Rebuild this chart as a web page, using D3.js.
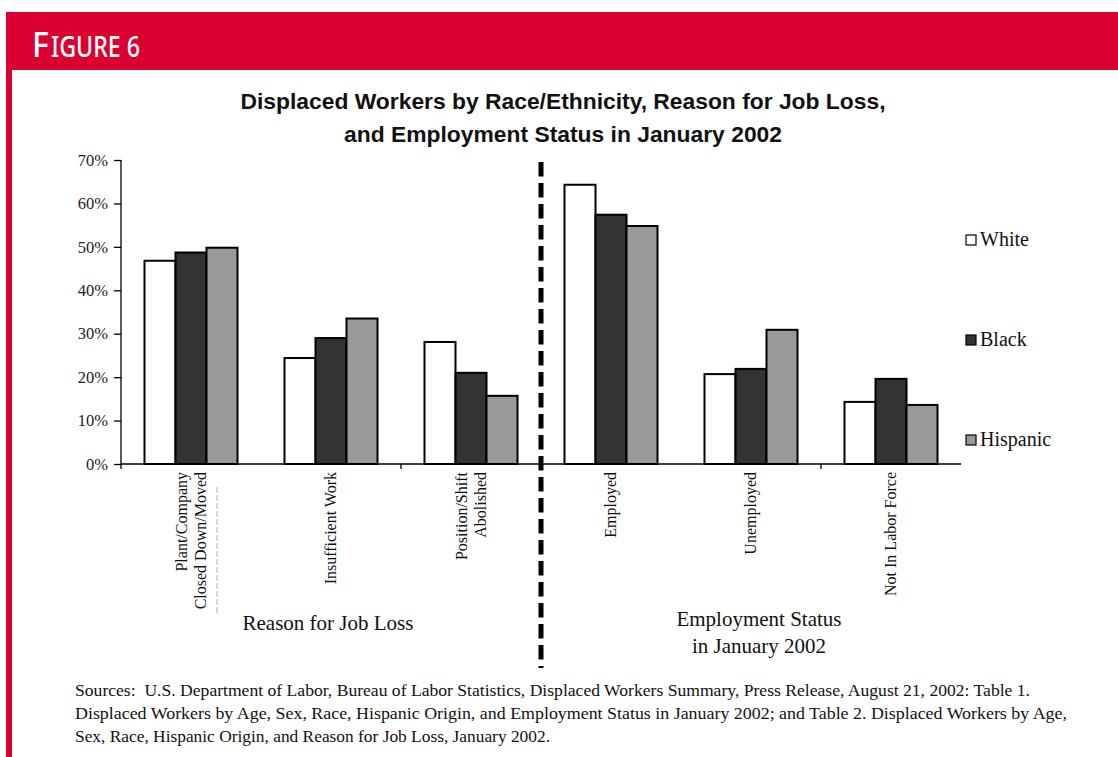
<!DOCTYPE html>
<html><head><meta charset="utf-8">
<script src="https://cdn.jsdelivr.net/npm/d3@7"></script>
<style>body{margin:0;background:#fff}svg{display:block}</style>
</head><body>
<script>
const categories = ["Plant/Company|Closed Down/Moved","Insufficient Work","Position/Shift|Abolished","Employed","Unemployed","Not In Labor Force"];
const series = ["White","Black","Hispanic"];
const white = [46.8, 24.4, 28.1, 64.3, 20.7, 14.3];
const black = [48.7, 29.0, 21.0, 57.4, 21.9, 19.6];
const hispanic = [49.8, 33.5, 15.7, 54.8, 30.9, 13.6];
const yTicks = [0,10,20,30,40,50,60,70];
const fills = {White:"#ffffff", Black:"#333333", Hispanic:"#999999"};
const values = {White:white, Black:black, Hispanic:hispanic};

const W=1118,H=757, red="#dc0030";
const svg=d3.select("body").append("svg").attr("width",W).attr("height",H);
// header
svg.append("rect").attr("x",6).attr("y",12).attr("width",W-6).attr("height",58).attr("fill",red);
svg.append("rect").attr("x",6).attr("y",12).attr("width",6).attr("height",H-12).attr("fill",red);
const hfont="'Noto Sans', 'Open Sans', sans-serif";
svg.append("text").attr("x",32).attr("y",57).attr("fill","#fff").attr("font-family",hfont).attr("font-weight",500)
  .attr("font-size",35).attr("textLength",17).attr("lengthAdjust","spacingAndGlyphs").text("F");
svg.append("text").attr("x",51).attr("y",57).attr("fill","#fff").attr("font-family",hfont).attr("font-weight",500)
  .attr("font-size",28).attr("textLength",89).attr("lengthAdjust","spacingAndGlyphs").text("IGURE 6");

// title
const tfont="'Liberation Sans', Arial, sans-serif";
svg.append("text").attr("x",563).attr("y",109).attr("text-anchor","middle").attr("font-family",tfont)
  .attr("font-weight","bold").attr("font-size",22).attr("fill","#111")
  .attr("textLength",645).attr("lengthAdjust","spacingAndGlyphs")
  .text("Displaced Workers by Race/Ethnicity, Reason for Job Loss,");
svg.append("text").attr("x",563).attr("y",142).attr("text-anchor","middle").attr("font-family",tfont)
  .attr("font-weight","bold").attr("font-size",22).attr("fill","#111")
  .attr("textLength",438).attr("lengthAdjust","spacingAndGlyphs")
  .text("and Employment Status in January 2002");

const serif="'Liberation Serif', 'Times New Roman', serif";
const y=d3.scaleLinear().domain([0,70]).range([464,160]);
const x0=d3.scaleBand().domain(categories).range([121,961]).paddingInner(47/140).paddingOuter(47/280);
const x1=d3.scaleBand().domain(series).range([0,x0.bandwidth()]);

// bars
const g=svg.append("g");
categories.forEach((c,i)=>{
  series.forEach(s=>{
    g.append("rect").attr("x",x0(c)+x1(s)).attr("y",y(values[s][i]))
     .attr("width",x1.bandwidth()).attr("height",y(0)-y(values[s][i]))
     .attr("fill",fills[s]).attr("stroke","#000").attr("stroke-width",2);
  });
});

// y axis
const ya=svg.append("g").attr("transform","translate(121,0)")
  .call(d3.axisLeft(y).tickValues(yTicks).tickSize(7).tickPadding(6).tickFormat(d=>d+"%"));
ya.select(".domain").attr("stroke","#000").attr("stroke-width",1.3).attr("d","M0,160V464");
ya.selectAll(".tick line").attr("stroke","#000").attr("stroke-width",1.3);
ya.selectAll("text").attr("font-family",serif).attr("font-size",16.5).attr("fill","#222");

// x axis line and ticks
svg.append("line").attr("x1",121).attr("x2",961).attr("y1",464).attr("y2",464).attr("stroke","#000").attr("stroke-width",1.3);
const step=x0.step();
[0,2,5].forEach(k=>{
  svg.append("line").attr("x1",121+k*step).attr("x2",121+k*step).attr("y1",464).attr("y2",469).attr("stroke","#000").attr("stroke-width",1.3);
});

// x labels
categories.forEach(c=>{
  const lines=c.split("|");
  const cx=x0(c)+x0.bandwidth()/2;
  const n=lines.length;
  lines.forEach((l,j)=>{
    const xx=cx+(j-(n-1)/2)*19+5;
    svg.append("text").attr("transform",`translate(${xx},472) rotate(-90)`)
      .attr("text-anchor","end").attr("font-family",serif).attr("font-size",16).attr("fill","#111").text(l);
  });
});
// faint artifact line
svg.append("line").attr("x1",217).attr("x2",217).attr("y1",487).attr("y2",613).attr("stroke","#bbb").attr("stroke-width",1.2).attr("stroke-dasharray","6,2");

// divider dashed line
svg.append("line").attr("x1",541).attr("x2",541).attr("y1",162).attr("y2",668).attr("stroke","#000").attr("stroke-width",5).attr("stroke-dasharray","14.5,6.5");

// group titles
svg.append("text").attr("x",328).attr("y",630).attr("text-anchor","middle").attr("font-family",serif).attr("font-size",21).attr("fill","#111").text("Reason for Job Loss");
svg.append("text").attr("x",759).attr("y",626).attr("text-anchor","middle").attr("font-family",serif).attr("font-size",21).attr("fill","#111").text("Employment Status");
svg.append("text").attr("x",759).attr("y",653).attr("text-anchor","middle").attr("font-family",serif).attr("font-size",21).attr("fill","#111").text("in January 2002");

// legend
const ly={White:235,Black:335,Hispanic:435};
series.forEach(s=>{
  svg.append("rect").attr("x",966).attr("y",ly[s]).attr("width",10).attr("height",10).attr("fill",fills[s]).attr("stroke","#000").attr("stroke-width",1.2);
  svg.append("text").attr("x",980).attr("y",ly[s]+11).attr("font-family",serif).attr("font-size",20).attr("fill","#111").text(s);
});

// sources
const src=[
 ["Sources:  U.S. Department of Labor, Bureau of Labor Statistics, Displaced Workers Summary, Press Release, August 21, 2002: Table 1.",955],
 ["Displaced Workers by Age, Sex, Race, Hispanic Origin, and Employment Status in January 2002; and Table 2. Displaced Workers by Age,",992],
 ["Sex, Race, Hispanic Origin, and Reason for Job Loss, January 2002.",475]];
src.forEach((s,i)=>{
  svg.append("text").attr("x",75).attr("y",696+i*23).attr("font-family",serif).attr("font-size",17).attr("fill","#111")
   .attr("textLength",s[1]).attr("lengthAdjust","spacingAndGlyphs").attr("xml:space","preserve").text(s[0]);
});
</script>
</body></html>
